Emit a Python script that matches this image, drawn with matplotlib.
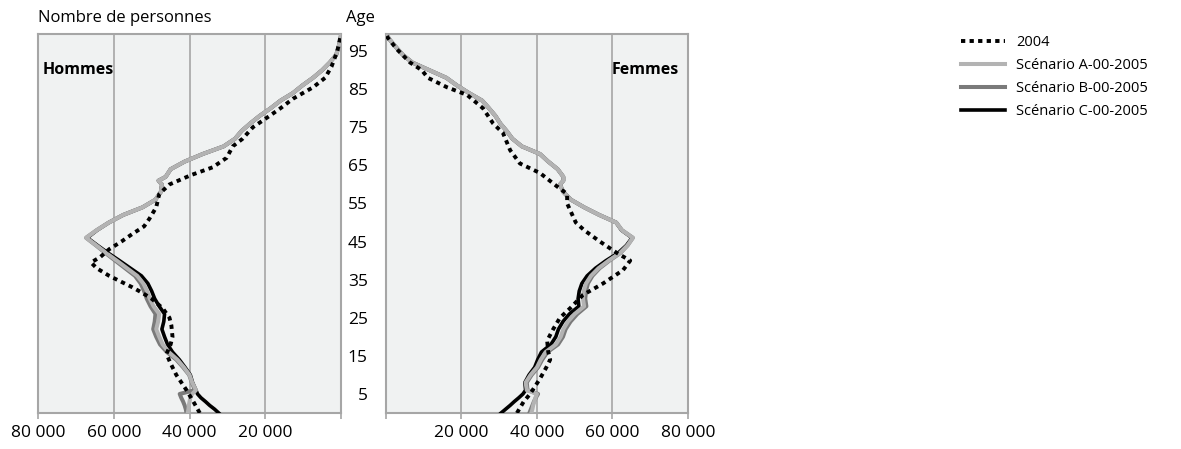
import matplotlib.pyplot as plt
from matplotlib.ticker import FuncFormatter

plt.rcParams['font.family'] = ['Open Sans', 'DejaVu Sans']

# ages used for the scenario curves (both sexes)
ages = [0, 1, 2, 3, 4, 5, 6, 8, 10, 12, 14, 16, 18, 20, 22, 24, 26, 28, 30, 32,
        34, 36, 38, 40, 42, 44, 46, 48, 50, 52, 54, 56, 58, 60, 61, 62, 64, 66,
        68, 70, 72, 74, 76, 78, 80, 82, 84, 86, 88, 90, 92, 94, 96, 98, 99.5]

# Hommes
men_a = [40500, 40300, 40200, 40000, 39800, 39300, 38300, 39300, 40000, 41500,
         43200, 45500, 47100, 48000, 48800, 48300, 48000, 49500, 50500, 51200,
         52200, 53800, 56500, 59200, 62000, 64600, 67300, 64500, 61300, 57500,
         52400, 49000, 47600, 47300, 48200, 46300, 45000, 41300, 36500, 31000,
         28000, 26300, 24000, 21500, 18600, 16000, 12700, 10200, 7400, 5000,
         3000, 1300, 700, 200, 0]
men_b = [40800, 41000, 41300, 41700, 42200, 42600, 38600, 39400, 40100, 41700,
         43500, 46000, 47800, 48800, 49600, 49200, 49000, 50300, 51300, 52000,
         52900, 54400, 57000, 59600, 62200, 64700, 67300, 64500, 61300, 57500,
         52400, 49000, 47600, 47300, 48200, 46300, 45000, 41300, 36500, 31000,
         28000, 26300, 24000, 21500, 18600, 16000, 12700, 10200, 7400, 5000,
         3000, 1300, 700, 200, 0]
men_c = [32300, 33400, 34700, 35800, 37000, 37900, 38300, 39200, 39800, 41200,
         42700, 44500, 45800, 46600, 47300, 46800, 46600, 48000, 49200, 50000,
         51000, 52700, 55600, 58500, 61500, 64300, 67000, 64400, 61300, 57500,
         52400, 49000, 47600, 47300, 48200, 46300, 45000, 41300, 36500, 31000,
         28000, 26300, 24000, 21500, 18600, 16000, 12700, 10200, 7400, 5000,
         3000, 1300, 700, 200, 0]
ages_men_2004 = [0, 3, 6, 10, 13, 15.5, 18, 20, 23, 25, 27.5, 30, 31.5, 33, 36,
                 38, 39.5, 41, 43, 45, 47, 49, 51, 54, 57.5, 60, 62.5, 64.5,
                 67, 70, 72, 75, 77.5, 80, 82.5, 85.5, 88, 91, 95, 99.5]
men_2004 = [37300, 39000, 40800, 43500, 45000, 46100, 45000, 44500, 44800, 45300,
            47100, 50000, 52400, 55100, 61200, 64500, 66000, 63500, 61200, 58000,
            55100, 52000, 50600, 48800, 48000, 45300, 39500, 33900, 30200, 28600,
            26000, 23300, 19600, 16000, 12700, 7400, 4200, 2500, 1000, 0]

# Femmes
women_a = [38500, 38800, 39000, 39300, 39600, 40000, 37300, 37000, 38300, 40000,
           41000, 42300, 45000, 46300, 47000, 48200, 50000, 52500, 52200, 52400,
           53000, 54300, 56300, 59000, 62000, 64000, 65400, 62500, 61000, 56500,
           52500, 49000, 47000, 46100, 47000, 47000, 45500, 43000, 40800, 36000,
           33500, 32000, 30300, 29000, 27300, 25500, 22000, 18800, 16000, 11500,
           7000, 4500, 2700, 1000, 0]
women_b = [38000, 38400, 38800, 39200, 39700, 40300, 37500, 37300, 38600, 40300,
           41400, 42800, 45600, 46900, 47600, 48900, 50700, 53100, 52800, 53000,
           53500, 54700, 56600, 59200, 62100, 64000, 65400, 62500, 61000, 56500,
           52500, 49000, 47000, 46100, 47000, 47000, 45500, 43000, 40800, 36000,
           33500, 32000, 30300, 29000, 27300, 25500, 22000, 18800, 16000, 11500,
           7000, 4500, 2700, 1000, 0]
women_c = [30500, 31700, 32900, 34000, 35200, 36300, 37000, 36800, 37900, 39400,
           40200, 41200, 43700, 45000, 45700, 46900, 48600, 51100, 50900, 51200,
           51900, 53300, 55500, 58300, 61500, 63700, 65200, 62400, 61000, 56500,
           52500, 49000, 47000, 46100, 47000, 47000, 45500, 43000, 40800, 36000,
           33500, 32000, 30300, 29000, 27300, 25500, 22000, 18800, 16000, 11500,
           7000, 4500, 2700, 1000, 0]
ages_women_2004 = [0, 3, 5, 7, 9, 12, 14, 16, 19, 22, 25, 27.5, 31, 34, 37.5, 40,
                   42, 45, 48, 50, 51.5, 55, 57.5, 59.5, 63, 65.5, 69, 73.5, 76,
                   80, 83.5, 85.5, 88, 90, 92, 95.5, 98.5, 99.5]
women_2004 = [34700, 36500, 38200, 39500, 40800, 42500, 43500, 43000, 42700, 44300,
              46100, 48800, 52200, 57500, 62800, 64700, 61200, 56700, 52500, 50300,
              49600, 48000, 48000, 45300, 40800, 35500, 32900, 31000, 28400, 25700,
              21500, 16200, 11100, 9500, 6400, 2900, 500, 0]

age_ticks = [5, 15, 25, 35, 45, 55, 65, 75, 85, 95]
x_ticks = [0, 20000, 40000, 60000, 80000]
labels = ['2004', 'Scénario A-00-2005', 'Scénario B-00-2005', 'Scénario C-00-2005']

grey_a = '#b3b3b3'
grey_b = '#7a7a7a'
frame = '#a6a6a6'
bg = '#f0f2f2'
fs_tick = 12.5
fs_title = 12
fs_bold = 11.5
fs_leg = 10.5


def fmt(v, pos):
    if v == 0:
        return ''
    return '{:,}'.format(int(v)).replace(',', ' ')


fig = plt.figure(figsize=(11.81, 4.49), dpi=100)
ax_m = fig.add_axes([0.0322, 0.0802, 0.2566, 0.8441])
ax_f = fig.add_axes([0.3268, 0.0802, 0.2557, 0.8441])

for ax, a_, b_, c_, a04, v04 in [(ax_m, men_a, men_b, men_c, ages_men_2004, men_2004),
                                 (ax_f, women_a, women_b, women_c, ages_women_2004, women_2004)]:
    ax.set_facecolor(bg)
    lc, = ax.plot(c_, ages, color='black', lw=2.6, zorder=3)
    lb, = ax.plot(b_, ages, color=grey_b, lw=2.9, zorder=4)
    la, = ax.plot(a_, ages, color=grey_a, lw=2.9, zorder=5)
    l04, = ax.plot(v04, a04, color='black', lw=2.8, linestyle=(0, (1.1, 1.1)),
                   dash_capstyle='butt', zorder=6)
    ax.set_ylim(0, 99.5)
    ax.set_xticks(x_ticks)
    ax.xaxis.set_major_formatter(FuncFormatter(fmt))
    ax.grid(axis='x', color=frame, lw=1.2)
    ax.set_axisbelow(True)
    for s in ax.spines.values():
        s.set_color(frame)
        s.set_linewidth(1.5)
    ax.tick_params(axis='x', length=4, width=1.2, color=frame, labelsize=fs_tick, pad=5)

ax_m.set_xlim(80000, 0)
ax_f.set_xlim(0, 80000)
ax_m.set_yticks([])
ax_f.set_yticks(age_ticks)
ax_f.tick_params(axis='y', length=0, labelsize=fs_tick, pad=13)
for t in ax_f.get_yticklabels():
    t.set_horizontalalignment('right')

ax_m.text(0.015, 0.905, 'Hommes', transform=ax_m.transAxes, fontsize=fs_bold,
          fontweight='bold', va='center', ha='left')
ax_f.text(0.97, 0.905, 'Femmes', transform=ax_f.transAxes, fontsize=fs_bold,
          fontweight='bold', va='center', ha='right')

fig.text(38 / 1181, 1 - 18 / 449, 'Nombre de personnes', fontsize=fs_title, va='center', ha='left')
fig.text(346 / 1181, 1 - 18 / 449, 'Age', fontsize=fs_title, va='center', ha='left')

fig.legend([l04, la, lb, lc], labels, loc='upper left',
           bbox_to_anchor=(948 / 1181, 1 - 22 / 449), frameon=False, fontsize=fs_leg,
           handlelength=3.0, handletextpad=0.75, labelspacing=0.55)

fig.savefig('out.png', dpi=100)
